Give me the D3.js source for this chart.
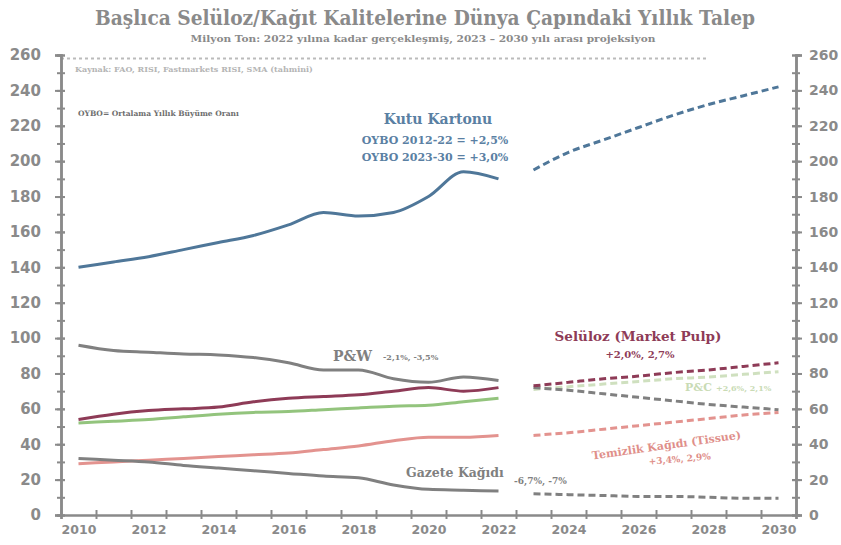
<!DOCTYPE html>
<html>
<head>
<meta charset="utf-8">
<script src="https://cdn.jsdelivr.net/npm/d3@7"></script>
<style>
body { margin:0; background:#fff; }
svg text { font-family: "DejaVu Serif", "Liberation Serif", serif; }
.ax text { font-family: "DejaVu Sans", "Liberation Sans", sans-serif; font-weight:bold; fill:#8a8a8a; }
.ax path, .ax line { stroke:#8a8a8a; }
</style>
</head>
<body>
<div id="chart"></div>
<script>
(function(){

var years = d3.range(2010, 2023)
var projYears = d3.range(2023, 2031)

// Milyon ton, gerçekleşen
var kutu     = [140,143,146,150,154,158,164,171,169,171,180,194,190]
var pw       = [96,93,92,91,90.5,89,86,82,82,77,75,78,76]
var pulp     = [54,57,59,60,61,64,66,67,68,70,72,70,72]
var green    = [52,53,54,55.5,57,58,58.5,59.5,60.5,61.5,62,64,66]
var tissue   = [29,30,31,32,33,34,35,37,39,42,44,44,45]
var gazete   = [32,31,30,28,26.5,25,23.5,22,21,17,14.5,14,13.5]

// projeksiyon 2023-2030
var kutuP    = [195,205,212,219,226,232,237,242]
var pwP      = [72,70.5,68.5,66.5,64.5,62.5,61,59.5]
var pulpP    = [73,75,77,78.5,80.5,82,84,86]
var greenP   = [71,72.5,74,75.5,77,78,79.5,81]
var tissueP  = [45,46.5,48.5,50.5,52.5,54.5,56.5,58]
var gazeteP  = [12,11.5,11,10.5,10.5,10,9.5,9.5]

var yTicks = d3.range(0, 261, 20)
var xLabelYears = d3.range(2010, 2031, 2)

var W = 841, H = 545

var svg = d3.select("#chart").append("svg")
	.attr("width", W).attr("height", H)

var x = d3.scaleLinear().domain([2009.5, 2030.5]).range([61, 796])
var y = d3.scaleLinear().domain([0, 260]).range([515, 55])

// faint top line
svg.append("line")
	.attr("x1", x(2009.5)).attr("x2", x(2028)).attr("y1", y(258)).attr("y2", y(258))
	.style("stroke", "#bbb").style("stroke-width", 2).style("stroke-dasharray", "3,3")

// axes
var minor = d3.range(0, 261, 10)
svg.append("g").attr("class","ax").attr("transform","translate("+x(2009.5)+",0)")
	.call(d3.axisLeft(y).tickValues(minor).tickSize(4).tickFormat(""))
	.selectAll("line").attr("x2", 4).attr("x1", -4)
svg.append("g").attr("class","ax").attr("transform","translate("+x(2009.5)+",0)")
	.call(d3.axisLeft(y).tickValues(yTicks).tickSize(6).tickPadding(14))
	.call(function(g){ g.selectAll("text").style("font-size","15px") })
	.selectAll("line").attr("x1", 4)

svg.append("g").attr("class","ax").attr("transform","translate("+x(2030.5)+",0)")
	.call(d3.axisRight(y).tickValues(minor).tickSize(4).tickFormat(""))
	.selectAll("line").attr("x1", -4)
svg.append("g").attr("class","ax").attr("transform","translate("+x(2030.5)+",0)")
	.call(d3.axisRight(y).tickValues(yTicks).tickSize(6).tickPadding(7))
	.call(function(g){ g.selectAll("text").style("font-size","14px") })
	.selectAll("line").attr("x1", -4)

svg.append("g").attr("class","ax").attr("transform","translate(0,"+y(0)+")")
	.call(d3.axisBottom(x).tickValues(d3.range(2009.5, 2031, 1)).tickSize(4).tickFormat(""))
	.selectAll("line").attr("y1", -5)
svg.append("g").attr("class","ax").attr("transform","translate(0,"+y(0)+")")
	.call(d3.axisBottom(x).tickValues(xLabelYears).tickSize(0).tickPadding(10).tickFormat(d3.format("d")))
	.call(function(g){ g.select(".domain").remove(); g.selectAll("text").style("font-size","12.5px") })

svg.selectAll(".ax .domain").style("stroke-width", 2.5)
svg.selectAll(".ax line").style("stroke-width", 2)

var line = d3.line()
	.x(function(d){ return x(d[0]) })
	.y(function(d){ return y(d[1]) })
	.curve(d3.curveMonotoneX)

var series = [
	{name:"kutu",   act:kutu,   proj:kutuP,   color:"#4f7799"},
	{name:"green",  act:green,  proj:greenP,  color:"#93c47d", projColor:"#cfe0bf"},
	{name:"pw",     act:pw,     proj:pwP,     color:"#808080"},
	{name:"pulp",   act:pulp,   proj:pulpP,   color:"#8e3b57"},
	{name:"tissue", act:tissue, proj:tissueP, color:"#e3938f"},
	{name:"gazete", act:gazete, proj:gazeteP, color:"#808080"}
]

series.forEach(function(s){
	svg.append("path")
		.datum(years.map(function(yr,i){ return [yr, s.act[i]] }))
		.attr("d", line)
		.style("fill","none").style("stroke", s.color).style("stroke-width", 3)
	svg.append("path")
		.datum(projYears.map(function(yr,i){ return [yr, s.proj[i]] }))
		.attr("d", line)
		.style("fill","none").style("stroke", s.projColor || s.color).style("stroke-width", 3)
		.style("stroke-dasharray","7,4")
})

// titles
svg.append("text").text("Başlıca Selüloz/Kağıt Kalitelerine Dünya Çapındaki Yıllık Talep")
	.attr("x", 425).attr("y", 25).attr("text-anchor","middle")
	.attr("textLength", 660).attr("lengthAdjust","spacingAndGlyphs")
	.style("font-size","20px").style("font-weight","bold").style("fill","#8a8a8a")
svg.append("text").text("Milyon Ton: 2022 yılına kadar gerçekleşmiş, 2023 – 2030 yılı arası projeksiyon")
	.attr("x", 423).attr("y", 42).attr("text-anchor","middle")
	.attr("textLength", 465).attr("lengthAdjust","spacingAndGlyphs")
	.style("font-size","9px").style("font-weight","bold").style("fill","#8a8a8a")
svg.append("text").text("Kaynak: FAO, RISI, Fastmarkets RISI, SMA (tahmini)")
	.attr("x", 75).attr("y", 72)
	.style("font-size","8px").style("font-weight","bold").style("fill","#b5b5b5")
svg.append("text").text("OYBO= Ortalama Yıllık Büyüme Oranı")
	.attr("x", 78).attr("y", 116)
	.style("font-size","7.5px").style("font-weight","bold").style("fill","#6e6e6e")

// series labels
function lbl(t, xx, yy, size, col, anchor){
	return svg.append("text").text(t).attr("x", xx).attr("y", yy)
		.attr("text-anchor", anchor || "middle")
		.style("font-size", size+"px").style("font-weight","bold").style("fill", col)
}
lbl("Kutu Kartonu", 438, 124, 14, "#5a80a3")
lbl("OYBO 2012-22 = +2,5%", 435, 144, 11, "#5a80a3")
lbl("OYBO 2023-30 = +3,0%", 435, 161, 11, "#5a80a3")

lbl("P&W", 333, 361, 14, "#808080", "start")
lbl("-2,1%, -3,5%", 383, 360, 8, "#808080", "start")

lbl("Selüloz (Market Pulp)", 638, 341, 13.5, "#8e3b57")
lbl("+2,0%, 2,7%", 640, 358, 10, "#8e3b57")

lbl("P&C", 685, 391, 11, "#c9dbb5", "start")
lbl("+2,6%, 2,1%", 716, 391, 8, "#c9dbb5", "start")

lbl("Temizlik Kağıdı (Tissue)", 0, 0, 11, "#e08f8a")
	.attr("transform", "translate(667,449) rotate(-8)")
lbl("+3,4%, 2,9%", 0, 0, 9, "#e08f8a")
	.attr("transform", "translate(680,462) rotate(-5)")

lbl("Gazete Kağıdı", 406, 477, 12.5, "#808080", "start")
lbl("-6,7%, -7%", 514, 484, 9, "#808080", "start")

})()
</script>
</body>
</html>
